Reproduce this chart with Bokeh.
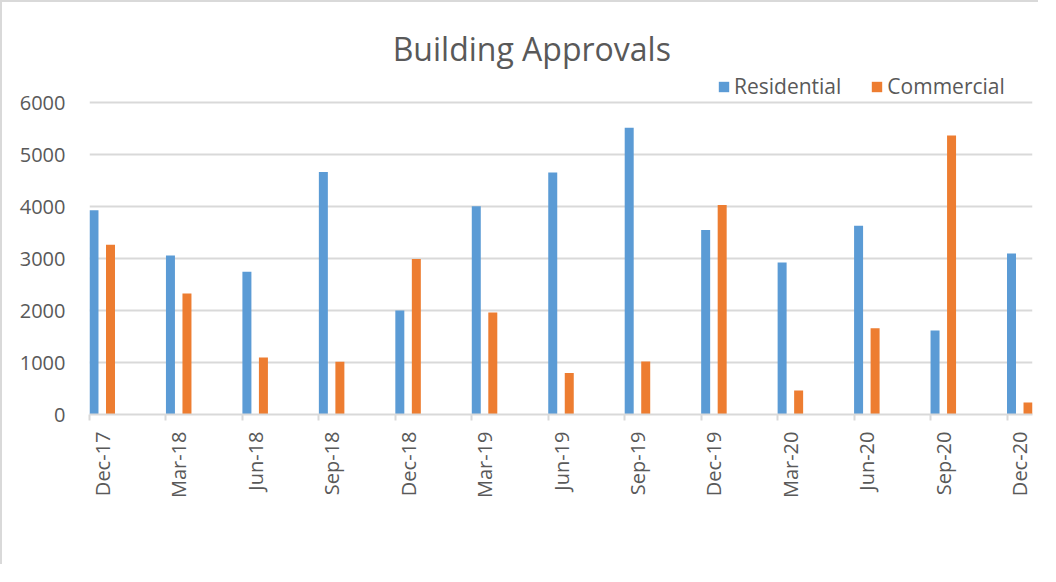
import math
from bokeh.plotting import figure
from bokeh.models import FixedTicker, Range1d, Legend, LegendItem, Label
from bokeh.embed import file_html
from bokeh.resources import INLINE

# ---- data ----
quarters = ["Dec-17", "Mar-18", "Jun-18", "Sep-18", "Dec-18", "Mar-19", "Jun-19",
            "Sep-19", "Dec-19", "Mar-20", "Jun-20", "Sep-20", "Dec-20"]
residential = [3930, 3060, 2745, 4665, 2000, 4005, 4655, 5515, 3550, 2925, 3630, 1615, 3095]
commercial = [3265, 2325, 1095, 1015, 2990, 1960, 800, 1020, 4030, 460, 1660, 5365, 230]
y_ticks = [0, 1000, 2000, 3000, 4000, 5000, 6000]

# month index of each quarter on a monthly date axis
months = [3 * i for i in range(len(quarters))]

FONT = "Open Sans"
TEXT = "#595959"
GRID = "#d9d9d9"
BLUE = "#5B9BD5"
ORANGE = "#ED7D31"

W, H = 1038, 564
MB_L, MB_R, MB_T, MB_B = 87, 8, 10, 152
frame_h = H - MB_T - MB_B
px_per_unit = 312 / 6000.0  # 6000 spans 312 px
y_end = frame_h / px_per_unit

p = figure(width=W, height=H, output_backend="svg", toolbar_location=None,
           x_range=Range1d(0, 37), y_range=Range1d(0, y_end),
           min_border_left=MB_L, min_border_right=MB_R,
           min_border_top=MB_T, min_border_bottom=MB_B)
p.styles = {"border-top": "2px solid #d9d9d9", "border-left": "2px solid #d9d9d9"}
p.outline_line_color = None
p.background_fill_color = "white"
p.border_fill_color = "white"

res_x = [m + 0.176 for m in months]
com_x = [m + 0.824 for m in months]
r1 = p.vbar(x=res_x, top=residential, width=0.353, fill_color=BLUE, line_color=None)
r2 = p.vbar(x=com_x, top=commercial, width=0.353, fill_color=ORANGE, line_color=None)

# x axis
xa = p.xaxis[0]
xa.ticker = FixedTicker(ticks=[m + 0.5 for m in months], minor_ticks=months)
xa.major_label_overrides = {m + 0.5: q for m, q in zip(months, quarters)}
xa.major_label_orientation = math.pi / 2
xa.major_tick_in = 0
xa.major_tick_out = 0
xa.minor_tick_in = 0
xa.minor_tick_out = 6
xa.minor_tick_line_color = GRID
xa.minor_tick_line_width = 2
xa.axis_line_color = GRID
xa.axis_line_width = 2
xa.major_label_text_font = FONT
xa.major_label_text_font_size = "20px"
xa.major_label_text_color = TEXT
xa.major_label_standoff = 11

# y axis
ya = p.yaxis[0]
ya.ticker = FixedTicker(ticks=y_ticks)
ya.axis_line_color = None
ya.major_tick_line_color = None
ya.minor_tick_line_color = None
ya.major_label_text_font = FONT
ya.major_label_text_font_size = "20px"
ya.major_label_text_color = TEXT
ya.major_label_standoff = 18

p.xgrid.grid_line_color = None
p.ygrid.grid_line_color = GRID
p.ygrid.grid_line_width = 2

# title
title = Label(x=(539 - 96.7) / (943 / 37.0), y=(422.3 - 56) / px_per_unit,
              text="Building Approvals", text_align="center", text_baseline="alphabetic",
              text_font=FONT, text_font_size="32px", text_color=TEXT)
p.add_layout(title)

legend = Legend(items=[LegendItem(label="Residential", renderers=[r1]),
                       LegendItem(label="Commercial", renderers=[r2])],
                location=(628, 314), orientation="horizontal",
                glyph_width=13, glyph_height=13, label_standoff=4, spacing=29,
                padding=0, margin=0, border_line_color=None, background_fill_alpha=0,
                label_text_font=FONT, label_text_font_size="21px", label_text_color=TEXT,
                label_height=20)
p.add_layout(legend)

open("out.html", "w").write(file_html(p, INLINE))
